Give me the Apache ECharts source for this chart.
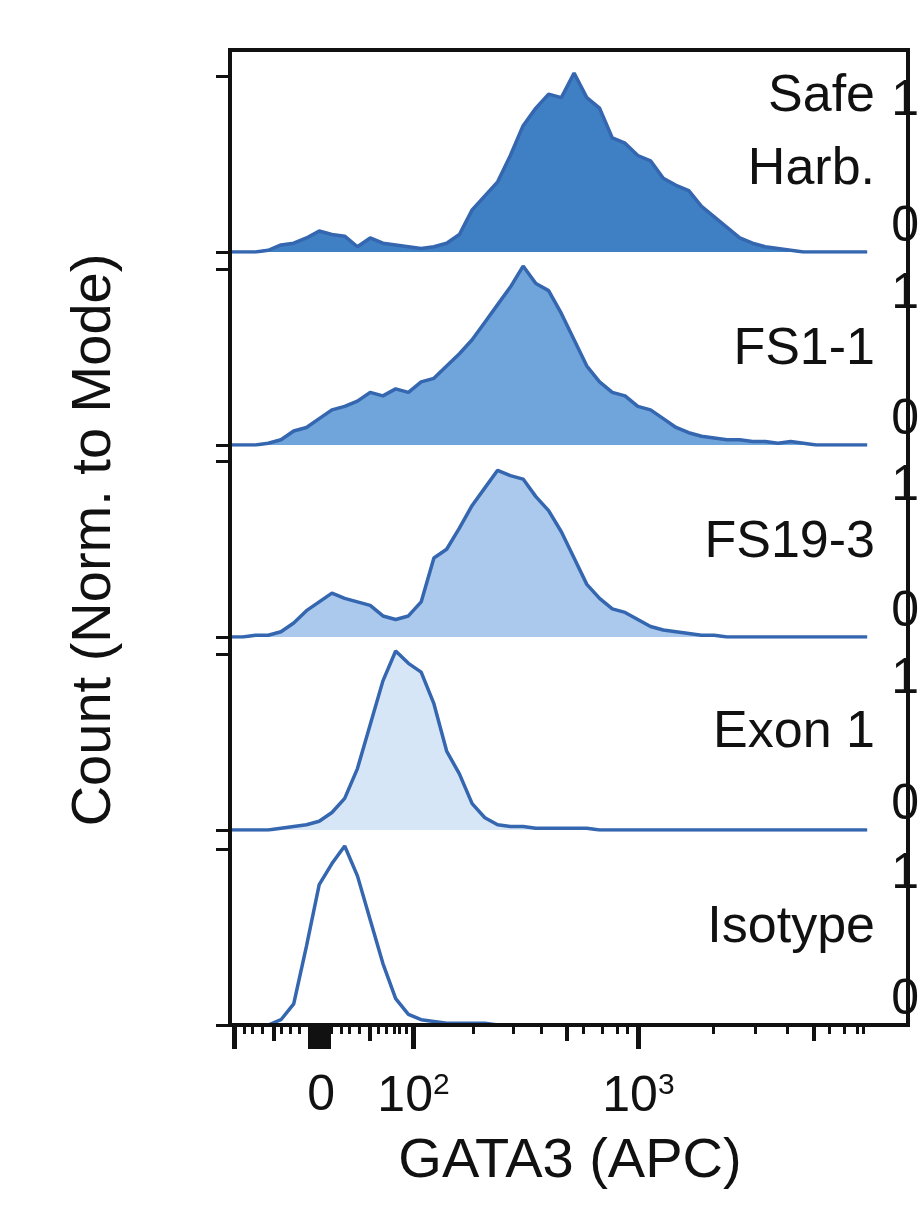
<!DOCTYPE html>
<html>
<head>
<meta charset="utf-8">
<script src="https://cdn.jsdelivr.net/npm/echarts@6/dist/echarts.min.js"></script>
<style>html,body{margin:0;background:#fff}#c{width:922px;height:1220px}</style>
</head>
<body>
<div id="c"></div>
<script>
// channel axis (display scale 0..1000), step 20
var X = [];
for (var c = 0; c <= 1000; c += 20) X.push(c);

var names = ['Safe Harb.', 'FS1-1', 'FS19-3', 'Exon 1', 'Isotype'];
var safeHarb = [0,0,0,0.01,0.04, 0.05,0.08,0.12,0.1,0.09, 0.03,0.08,0.05,0.04,0.03, 0.02,0.03,0.05,0.1,0.24,
  0.32,0.4,0.55,0.72,0.82, 0.9,0.88,1.02,0.88,0.82, 0.65,0.62,0.55,0.52,0.42, 0.38,0.35,0.26,0.2,0.14,
  0.08,0.05,0.03,0.02,0.01, 0,0,0,0,0,0];
var fs11 = [0,0,0,0.01,0.03, 0.08,0.1,0.15,0.2,0.22, 0.25,0.3,0.28,0.32,0.3, 0.36,0.38,0.45,0.52,0.6,
  0.7,0.8,0.9,1.02,0.92, 0.88,0.75,0.6,0.45,0.36, 0.3,0.28,0.22,0.2,0.15, 0.1,0.07,0.05,0.04,0.03,
  0.03,0.02,0.02,0.01,0.02, 0.01,0,0,0,0,0];
var fs193 = [0,0,0.01,0.01,0.03, 0.08,0.15,0.2,0.25,0.22, 0.2,0.18,0.12,0.1,0.12, 0.2,0.45,0.5,0.62,0.75,
  0.85,0.95,0.92,0.9,0.8, 0.72,0.6,0.45,0.3,0.22, 0.16,0.14,0.1,0.06,0.04, 0.03,0.02,0.01,0.01,0,
  0,0,0,0,0, 0,0,0,0,0,0];
var exon1 = [0,0,0,0,0.01, 0.02,0.03,0.05,0.1,0.18, 0.35,0.6,0.85,1.02,0.95, 0.9,0.72,0.45,0.32,0.15,
  0.07,0.03,0.02,0.02,0.01, 0.01,0.01,0.01,0.01,0, 0,0,0,0,0, 0,0,0,0,0,
  0,0,0,0,0, 0,0,0,0,0,0];
var isotype = [0,0,0,0,0.03, 0.12,0.45,0.8,0.92,1.02, 0.85,0.6,0.35,0.15,0.06, 0.03,0.02,0.01,0.01,0.01,
  0.01,0,0,0,0, 0,0,0,0,0, 0,0,0,0,0, 0,0,0,0,0,
  0,0,0,0,0, 0,0,0,0,0,0];
var seriesVals = [safeHarb, fs11, fs193, exon1, isotype];
var fills = ['#3f7fc4', '#6fa5da', '#aac9ec', '#d7e6f6', null];

var majorTicks = [7, 126, 133, 140, 147, 154, 288, 641];
var mediumTicks = [68, 220, 529, 916];
var minorTicks = [22, 35, 51, 81, 95, 108, 159, 174, 187, 203, 233, 246, 257, 266, 276,
  382, 445, 488, 555, 584, 607, 623, 759, 825, 875, 941, 964, 984, 994];
var labelTicks = [143, 288, 641];
var labelText = ['0', '{b|10}{s|2}', '{b|10}{s|3}'];

var baselines = [252, 445, 637, 830, 1025];
var H = 193;
var FONT = '"Liberation Sans", Arial, sans-serif';

var grids = [], xAxes = [], yAxes = [], series = [];
baselines.forEach(function (b, i) {
  grids.push({left: 230, right: 14, top: b - H, height: H});
  xAxes.push({type: 'value', gridIndex: i, min: 0, max: 1000, show: false});
  yAxes.push({
    type: 'value', gridIndex: i, min: 0, max: 1.1,
    axisLine: {show: false}, splitLine: {show: false},
    axisTick: {show: true, customValues: [0, 1], length: 14, lineStyle: {color: '#111', width: 3}},
    axisLabel: {show: false}
  });
  // label axes: "0" sits above its tick, "1" below
  yAxes.push({
    type: 'value', gridIndex: i, min: 0, max: 1.1,
    axisLine: {show: false}, splitLine: {show: false}, axisTick: {show: false},
    axisLabel: {customValues: [0], fontSize: 50, color: '#111', margin: 24, fontFamily: FONT, verticalAlign: 'bottom'}
  });
  yAxes.push({
    type: 'value', gridIndex: i, min: 0, max: 1.1,
    axisLine: {show: false}, splitLine: {show: false}, axisTick: {show: false},
    axisLabel: {customValues: [1], fontSize: 50, color: '#111', margin: 24, fontFamily: FONT, verticalAlign: 'top'}
  });
  series.push({
    type: 'line', xAxisIndex: i, yAxisIndex: i * 3, showSymbol: false, silent: true,
    data: X.map(function (x, k) { return [x, seriesVals[i][k]]; }),
    lineStyle: {color: '#3566b0', width: 3.5},
    areaStyle: fills[i] ? {color: fills[i], opacity: 1} : null,
    z: 5 - i
  });
});

// bottom tick axes
function tickAxis(vals, len, w, labels) {
  var a = {
    type: 'value', gridIndex: 4, min: 0, max: 1000, position: 'bottom',
    axisLine: {show: false}, splitLine: {show: false},
    axisTick: {show: true, customValues: vals, length: len, lineStyle: {color: '#111', width: w}},
    axisLabel: {show: false}
  };
  if (labels) {
    a.axisLabel = {
      show: true, customValues: labelTicks, margin: 46, fontSize: 50, color: '#111', fontFamily: FONT,
      formatter: function (v) { return labelText[labelTicks.indexOf(v)]; },
      rich: {b: {fontSize: 50, fontFamily: FONT, color: '#111'},
             s: {fontSize: 30, fontFamily: FONT, color: '#111', verticalAlign: 'top', padding: [0, 0, 22, 0]}}
    };
  }
  return a;
}
xAxes.push(tickAxis(majorTicks, 24, 5, false));
xAxes.push(tickAxis(mediumTicks, 16, 4, false));
xAxes.push(tickAxis(minorTicks, 9, 3, false));
xAxes.push(tickAxis([], 0, 1, true));

var labelY = [[97, 170], [350], [543], [733], [928]];
var graphics = [
  {type: 'rect', shape: {x: 230, y: 50, width: 678, height: 975}, z: 100,
   style: {fill: null, stroke: '#111', lineWidth: 4}},
  {type: 'text', x: 95, y: 540, rotation: Math.PI / 2, z: 100,
   style: {text: 'Count (Norm. to Mode)', font: '56px ' + FONT, fill: '#111', textAlign: 'center', textVerticalAlign: 'middle'}},
  {type: 'text', x: 570, y: 1162, z: 100,
   style: {text: 'GATA3 (APC)', font: '56px ' + FONT, fill: '#111', textAlign: 'center', textVerticalAlign: 'middle'}}
];
var lines = [['Safe', 'Harb.'], ['FS1-1'], ['FS19-3'], ['Exon 1'], ['Isotype']];
lines.forEach(function (ls, i) {
  ls.forEach(function (t, j) {
    graphics.push({type: 'text', x: 875, y: labelY[i][j], z: 100,
      style: {text: t, font: '52px ' + FONT, fill: '#111', textAlign: 'right', textVerticalAlign: 'middle'}});
  });
});

var chart = echarts.init(document.getElementById('c'));
chart.setOption({
  animation: false,
  grid: grids, xAxis: xAxes, yAxis: yAxes, series: series, graphic: graphics
});
</script>
</body>
</html>
